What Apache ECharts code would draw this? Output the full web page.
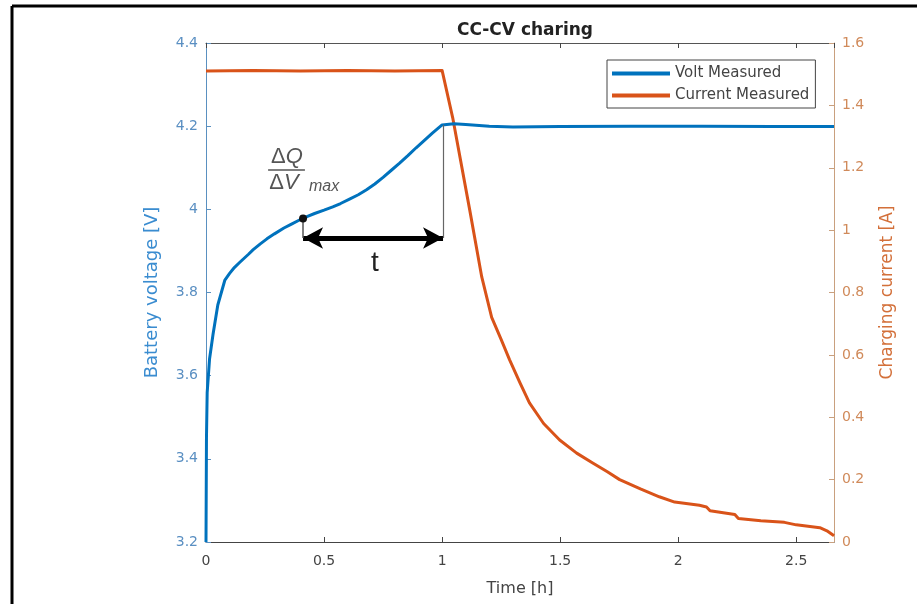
<!DOCTYPE html>
<html>
<head>
<meta charset="utf-8">
<script src="https://cdn.jsdelivr.net/npm/echarts@6/dist/echarts.min.js"></script>
<style>
    html, body { margin: 0; background: #fff; }
    #chart { width: 917px; height: 604px; }
</style>
</head>
<body>
<div id="chart"></div>
<script>
// Values (time in hours)
const voltTime = [0, 0.002, 0.005, 0.015, 0.03, 0.05, 0.08, 0.1, 0.12, 0.14, 0.157, 0.18, 0.2, 0.23, 0.258, 0.29, 0.33, 0.36,
    0.398, 0.43, 0.46, 0.5, 0.537, 0.57, 0.61, 0.645, 0.68, 0.715, 0.75, 0.785, 0.82, 0.855, 0.89, 0.925, 0.96, 0.985,
    1.0, 1.05, 1.1, 1.2, 1.3, 1.5, 1.8, 2.1, 2.4, 2.66];
const voltValues = [3.2, 3.45, 3.56, 3.64, 3.70, 3.77, 3.83, 3.846, 3.86, 3.871, 3.88, 3.892, 3.903, 3.917, 3.929, 3.941,
    3.955, 3.964, 3.975, 3.983, 3.99, 3.998, 4.006, 4.014, 4.025, 4.035, 4.047, 4.061, 4.077, 4.094, 4.111, 4.129,
    4.148, 4.166, 4.184, 4.196, 4.203, 4.206, 4.204, 4.2, 4.198, 4.199, 4.2, 4.2, 4.199, 4.199];

const currTime = [0, 0.2, 0.4, 0.6, 0.8, 1.0, 1.045, 1.117, 1.168, 1.21, 1.25, 1.286, 1.33, 1.37, 1.43, 1.498,
    1.57, 1.638, 1.70, 1.752, 1.84, 1.92, 1.985, 2.09, 2.12, 2.135, 2.24, 2.255, 2.35, 2.45, 2.5, 2.6, 2.63, 2.66];
const currValues = [1.51, 1.512, 1.51, 1.512, 1.51, 1.512, 1.36, 1.065, 0.85, 0.72, 0.65, 0.584, 0.51, 0.446, 0.38, 0.327,
    0.285, 0.253, 0.225, 0.2, 0.17, 0.145, 0.128, 0.118, 0.112, 0.1, 0.088, 0.075, 0.068, 0.063, 0.055, 0.046, 0.036, 0.02];

const seriesNames = ['Volt Measured', 'Current Measured'];

// annotation anchors (data coords): dQ/dV max point and the end of CC phase
const dqdvPoint = [0.411, 3.978];
const ccEnd = [1.004, 4.203];
const arrowLevel = 3.931;

const FONT = '"DejaVu Sans", "Liberation Sans", Arial, sans-serif';
const MATH_FONT = '"Liberation Sans", Arial, sans-serif';
const BLUE = '#0072BD';
const ORANGE = '#D95319';

const chart = echarts.init(document.getElementById('chart'));

const voltData = voltTime.map((t, i) => [t, voltValues[i]]);
const currData = currTime.map((t, i) => [t, currValues[i]]);

const xCommon = {
    type: 'value', min: 0, max: 2.66, interval: 0.5,
    splitLine: { show: false },
    axisTick: { inside: true, length: 5, lineStyle: { color: '#444' } },
};

const hiddenDot = { symbol: 'circle', symbolSize: 1, itemStyle: { color: 'transparent' } };

chart.setOption({
    backgroundColor: '#fff',
    animation: false,
    textStyle: { fontFamily: FONT },
    title: {
        text: 'CC-CV charing', left: 520, top: 17, textAlign: 'center',
        textStyle: { fontSize: 17, fontWeight: 'bold', color: '#222', fontFamily: FONT },
    },
    legend: {
        data: seriesNames, orient: 'vertical', left: 607, top: 60,
        icon: 'rect', itemWidth: 58, itemHeight: 4, itemGap: 7,
        padding: [6, 6, 5, 5],
        backgroundColor: '#fff', borderColor: '#444', borderWidth: 1,
        textStyle: { fontSize: 15, color: '#444', fontFamily: FONT },
    },
    grid: { left: 206, right: 83, top: 43, bottom: 62 },
    xAxis: [
        {
            ...xCommon, position: 'bottom',
            name: 'Time [h]', nameLocation: 'middle', nameGap: 39,
            nameTextStyle: { fontSize: 16, color: '#444', fontFamily: FONT },
            axisLine: { onZero: false, lineStyle: { color: '#444', width: 1 } },
            axisLabel: { fontSize: 14, color: '#444', margin: 12, showMaxLabel: false },
        },
        {
            ...xCommon, position: 'top',
            axisLine: { show: true, onZero: false, lineStyle: { color: '#555', width: 1 } },
            axisLabel: { show: false },
        },
    ],
    yAxis: [
        {
            type: 'value', min: 3.2, max: 4.4, interval: 0.2, position: 'left',
            name: 'Battery voltage [V]', nameLocation: 'middle', nameGap: 45,
            nameTextStyle: { fontSize: 18, color: '#3a8cd0', fontFamily: FONT },
            axisLine: { show: true, onZero: false, lineStyle: { color: '#5a90c0', width: 1 } },
            axisTick: { show: true, inside: true, length: 5, lineStyle: { color: '#5a90c0' } },
            axisLabel: { fontSize: 14, color: '#5a8fc2', margin: 8 },
            splitLine: { show: false },
        },
        {
            type: 'value', min: 0, max: 1.6, interval: 0.2, position: 'right',
            name: 'Charging current [A]', nameLocation: 'middle', nameGap: 45, nameRotate: 90,
            nameTextStyle: { fontSize: 17, color: '#d3703a', fontFamily: FONT },
            axisLine: { show: true, onZero: false, lineStyle: { color: '#c9a07e', width: 1 } },
            axisTick: { show: true, inside: true, length: 5, lineStyle: { color: '#c9a07e' } },
            axisLabel: { fontSize: 14, color: '#d08a5a', margin: 8 },
            splitLine: { show: false },
        },
    ],
    graphic: [
        // outer frame of the figure (top and left edges)
        { type: 'line', shape: { x1: 12, y1: 6, x2: 917, y2: 6 }, style: { stroke: '#000', lineWidth: 3 } },
        { type: 'line', shape: { x1: 12, y1: 6, x2: 12, y2: 604 }, style: { stroke: '#000', lineWidth: 3 } },
    ],
    series: [
        {
            name: seriesNames[0], type: 'line', data: voltData,
            xAxisIndex: 0, yAxisIndex: 0,
            showSymbol: false, z: 3,
            lineStyle: { color: BLUE, width: 3, join: 'round' },
            itemStyle: { color: BLUE },
            markLine: {
                silent: true, symbol: 'none', animation: false,
                label: { show: false },
                data: [
                    // double-headed arrow for t
                    [
                        { coord: [dqdvPoint[0], arrowLevel], symbol: 'arrow', symbolSize: [16, 20],
                          lineStyle: { color: '#000', width: 5, type: 'solid' } },
                        { coord: [ccEnd[0], arrowLevel], symbol: 'arrow', symbolSize: [16, 20] },
                    ],
                    [
                        { coord: dqdvPoint, lineStyle: { color: '#555', width: 1.5, type: 'solid' } },
                        { coord: [dqdvPoint[0], arrowLevel] },
                    ],
                    [
                        { coord: ccEnd, lineStyle: { color: '#666', width: 1.2, type: 'solid' } },
                        { coord: [ccEnd[0], arrowLevel] },
                    ],
                    // fraction bar
                    [
                        { coord: [0.263, 4.095], lineStyle: { color: '#555', width: 1.5, type: 'solid' } },
                        { coord: [0.419, 4.095] },
                    ],
                ],
            },
            markPoint: {
                silent: true, animation: false,
                data: [
                    { coord: dqdvPoint, symbol: 'circle', symbolSize: 8, itemStyle: { color: '#111' }, label: { show: false } },
                    { coord: [0.715, 3.87], ...hiddenDot,
                      label: { show: true, formatter: 't', fontSize: 28, color: '#222', fontFamily: MATH_FONT } },
                    { coord: [0.343, 4.126], ...hiddenDot,
                      label: { show: true, formatter: '{a|Δ}{b|Q}', rich: {
                          a: { fontSize: 22, color: '#555', fontFamily: MATH_FONT },
                          b: { fontSize: 22, color: '#555', fontStyle: 'italic', fontFamily: MATH_FONT },
                      } } },
                    { coord: [0.33, 4.063], ...hiddenDot,
                      label: { show: true, formatter: '{a|Δ}{b|V}', rich: {
                          a: { fontSize: 22, color: '#555', fontFamily: MATH_FONT },
                          b: { fontSize: 22, color: '#555', fontStyle: 'italic', fontFamily: MATH_FONT },
                      } } },
                    { coord: [0.5, 4.054], ...hiddenDot,
                      label: { show: true, formatter: 'max', fontSize: 16, fontStyle: 'italic', color: '#555', fontFamily: MATH_FONT } },
                ],
            },
        },
        {
            name: seriesNames[1], type: 'line', data: currData,
            xAxisIndex: 0, yAxisIndex: 1,
            showSymbol: false, z: 2,
            lineStyle: { color: ORANGE, width: 3, join: 'round' },
            itemStyle: { color: ORANGE },
        },
    ],
});
</script>
</body>
</html>
